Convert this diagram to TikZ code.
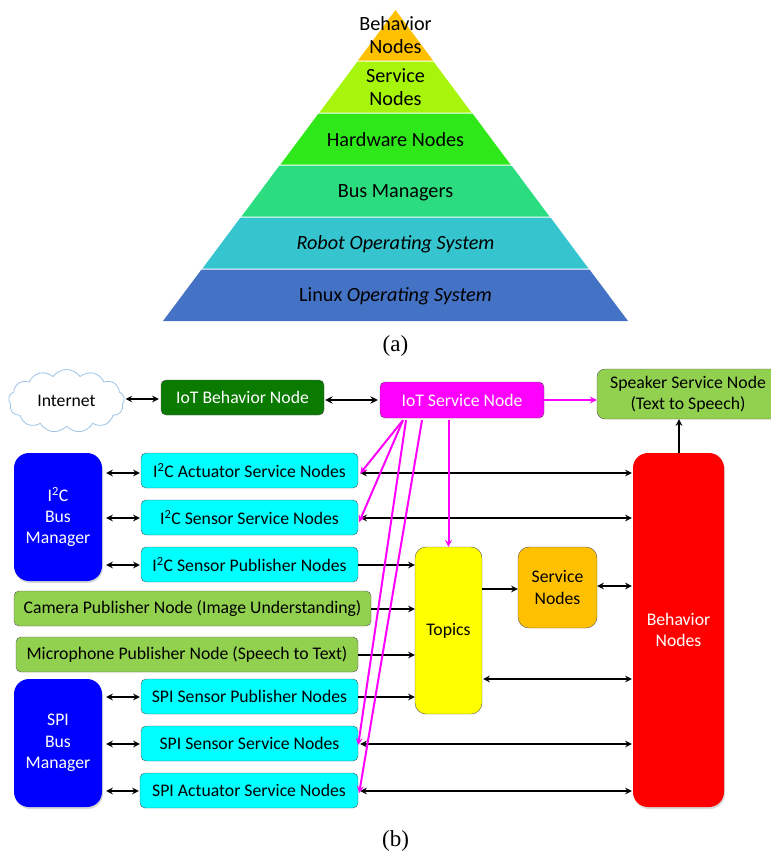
\documentclass[tikz,border=0pt]{standalone}
\usepackage{fontspec}
\setmainfont{Carlito}
\newfontfamily\capfont{Liberation Serif}
\usetikzlibrary{shapes.symbols,shadows}
\definecolor{edgegray}{HTML}{555555}
\definecolor{leaffill}{HTML}{92D050}
\definecolor{busblue}{HTML}{0000FF}
\definecolor{iotgreen}{HTML}{0A7A00}
\definecolor{svcorange}{HTML}{FFC000}
\definecolor{nodecyan}{HTML}{00FFFF}
\definecolor{iotpink}{HTML}{FF00FF}
\definecolor{topicyellow}{HTML}{FFFF00}
\definecolor{cloudblue}{HTML}{9DC3E6}
\definecolor{levela}{HTML}{FFC000}
\definecolor{levelb}{HTML}{A6F50A}
\definecolor{levelc}{HTML}{2FE81A}
\definecolor{leveld}{HTML}{2CDD80}
\definecolor{levele}{HTML}{36C5CF}
\definecolor{levelf}{HTML}{4472C4}
\tikzset{
    every node/.style={font=\fontsize{17.7}{21.3}\selectfont, align=center, inner sep=0pt},
    box/.style={draw=edgegray, rounded corners=5pt},
    cyanbox/.style={box, fill=nodecyan, minimum width=217pt, minimum height=35pt},
    greenbox/.style={box, fill=leaffill, minimum height=35pt},
    bigbox/.style={rounded corners=15pt, text=white, drop shadow={opacity=0.3, shadow xshift=1pt, shadow yshift=-2pt}},
    plain/.style={font=\fontsize{20.2}{22.5}\selectfont},
    caption/.style={font=\capfont\fontsize{23}{26}\selectfont},
    duplex/.style={black, line width=1.9pt, <->, >=stealth},
    simplex/.style={black, line width=1.9pt, ->, >=stealth},
    pinkline/.style={iotpink, line width=2pt, ->, >=stealth}
}
\begin{document}
\begin{tikzpicture}[x=1pt, y=-1pt]
    \useasboundingbox (0,0) rectangle (771,852);

    % Пирамида
    \fill[levelf] (163,321) -- (628,321) -- (589.5,269.5) -- (201.5,269.5) -- cycle;
    \fill[levele] (202.5,268.5) -- (588.5,268.5) -- (550.5,217.5) -- (240.5,217.5) -- cycle;
    \fill[leveld] (241.5,216.5) -- (549.5,216.5) -- (511.5,165.5) -- (279.5,165.5) -- cycle;
    \fill[levelc] (280.5,164.5) -- (510.5,164.5) -- (472.5,113.5) -- (318.5,113.5) -- cycle;
    \fill[levelb] (319.5,112.5) -- (471.5,112.5) -- (433.5,61.5) -- (357.5,61.5) -- cycle;
    \fill[levela] (358,60.5) -- (433,60.5) -- (395.5,10) -- cycle;
    \node[plain] (pyrbeh) at (395.5,35) {Behavior\\Nodes};
    \node[plain] (pyrsrv) at (395.5,87) {Service\\Nodes};
    \node[plain] (pyrhw) at (395.5,140) {Hardware Nodes};
    \node[plain] (pyrbus) at (395.5,193) {Bus Managers};
    \node[plain] (pyrros) at (395.5,244) {\itshape Robot Operating System};
    \node[plain] (pyrlin) at (395.5,296) {Linux \itshape Operating System};
    \node[caption] (capa) at (395.5,346) {(a)};

    % Верхний ряд
    \node[cloud, cloud puffs=13, cloud puff arc=110, aspect=1.9, draw=cloudblue, fill=white, line width=0.8pt, minimum width=116pt, minimum height=63pt] (inet) at (66.5,401) {Internet};
    \node[box, fill=iotgreen, text=white, minimum width=163pt, minimum height=35pt] (iotbeh) at (242.5,397.5) {IoT Behavior Node};
    \node[box, fill=iotpink, text=white, minimum width=164pt, minimum height=36pt] (iotsrv) at (462,400) {IoT Service Node};
    \node[box, fill=leaffill, rounded corners=8pt, minimum width=182pt, minimum height=50pt] (speaker) at (688,394) {Speaker Service Node\\(Text to Speech)};

    % Шины
    \node[bigbox, fill=busblue, minimum width=88pt, minimum height=128pt] (iicbus) at (58,517) {I\textsuperscript{2}C\\Bus\\Manager};
    \node[bigbox, fill=busblue, minimum width=88pt, minimum height=128pt] (spibus) at (58,743) {SPI\\Bus\\Manager};
    \node[bigbox, fill=red, minimum width=91pt, minimum height=354pt] (behav) at (678.5,630) {Behavior\\Nodes};

    % Узлы I2C и SPI
    \node[cyanbox] (iicact) at (249.5,470.5) {I\textsuperscript{2}C Actuator Service Nodes};
    \node[cyanbox] (iicsen) at (249.5,517.5) {I\textsuperscript{2}C Sensor Service Nodes};
    \node[cyanbox] (iicpub) at (249.5,564.5) {I\textsuperscript{2}C Sensor Publisher Nodes};
    \node[greenbox, minimum width=357pt] (camera) at (192.5,608.5) {Camera Publisher Node (Image Understanding)};
    \node[greenbox, minimum width=342pt] (micro) at (187,654.5) {Microphone Publisher Node (Speech to Text)};
    \node[cyanbox] (spipub) at (249.5,696.5) {SPI Sensor Publisher Nodes};
    \node[cyanbox] (spisen) at (249.5,743.5) {SPI Sensor Service Nodes};
    \node[cyanbox, minimum width=218pt] (spiact) at (249,790.5) {SPI Actuator Service Nodes};
    \node[box, fill=topicyellow, rounded corners=11pt, minimum width=67pt, minimum height=167pt] (topics) at (448.5,630.5) {Topics};
    \node[box, fill=svcorange, rounded corners=11pt, minimum width=79pt, minimum height=81pt] (svc) at (557.5,587.5) {Service\\Nodes};
    \node[caption] (capb) at (395.5,841) {(b)};

    % Стрелки верхнего ряда
    \draw[duplex, shorten <=1pt, shorten >=2pt] ([yshift=-1.5pt]inet.east |- iotbeh.west) -- ([yshift=-1.5pt]iotbeh.west);
    \draw[duplex, line width=2.2pt, shorten <=1pt, shorten >=2pt] (iotbeh.east |- iotsrv.west) -- (iotsrv.west);
    \draw[pinkline] (iotsrv.east) -- (iotsrv.east -| speaker.west);
    \draw[simplex] ([xshift=0.5pt]behav.north) -- ([xshift=0.5pt]behav.north |- speaker.south);

    % Стрелки от шин
    \foreach \n/\b in {iicsen/iicbus, iicpub/iicbus, spipub/spibus, spisen/spibus, spiact/spibus}
        \draw[duplex, shorten <=4pt, shorten >=1pt] ([yshift=-0.5pt]\n.west -| \b.east) -- ([yshift=-0.5pt]\n.west);
    \draw[duplex, shorten <=4pt, shorten >=1pt] ([yshift=-2.5pt]iicact.west -| iicbus.east) -- ([yshift=-2.5pt]iicact.west);

    % Стрелки к узлам поведения
    \foreach \n in {iicsen, spisen, spiact}
        \draw[duplex, shorten <=2pt, shorten >=1pt] ([yshift=-0.5pt]\n.east) -- ([yshift=-0.5pt]\n.east -| behav.west);
    \draw[duplex, shorten <=2pt, shorten >=1pt] ([yshift=-2.5pt]iicact.east) -- ([yshift=-2.5pt]iicact.east -| behav.west);
    \draw[duplex, shorten <=1pt, shorten >=1pt] ([yshift=-48.5pt]topics.east) -- ([yshift=-48.5pt]topics.east -| behav.west);
    \draw[duplex, shorten >=1pt] ([yshift=1.5pt]svc.east) -- ([yshift=1.5pt]svc.east -| behav.west);

    % Стрелки к Topics
    \foreach \n in {iicpub, camera, micro, spipub}
        \draw[simplex] ([yshift=-0.5pt]\n.east) -- ([yshift=-0.5pt]\n.east -| topics.west);
    \draw[simplex] ([yshift=-1.5pt]topics.east |- svc.west) -- ([yshift=-1.5pt]svc.west);

    % Линии от IoT Service Node
    \draw[pinkline] ([xshift=-59pt,yshift=-2pt]iotsrv.south) -- ([xshift=2pt,yshift=-3pt]iicact.east);
    \draw[pinkline] ([xshift=-59pt,yshift=-2pt]iotsrv.south) -- ([xshift=1pt,yshift=-4.5pt]iicsen.east);
    \draw[pinkline] ([xshift=-56pt,yshift=-2pt]iotsrv.south) -- ([yshift=-1.5pt]spisen.east);
    \draw[pinkline] ([xshift=-40pt,yshift=-2pt]iotsrv.south) -- ([xshift=1pt,yshift=-2.5pt]spiact.east);
    \draw[pinkline] ([yshift=-2pt]iotsrv.south -| topics.north) -- (topics.north);
\end{tikzpicture}
\end{document}
